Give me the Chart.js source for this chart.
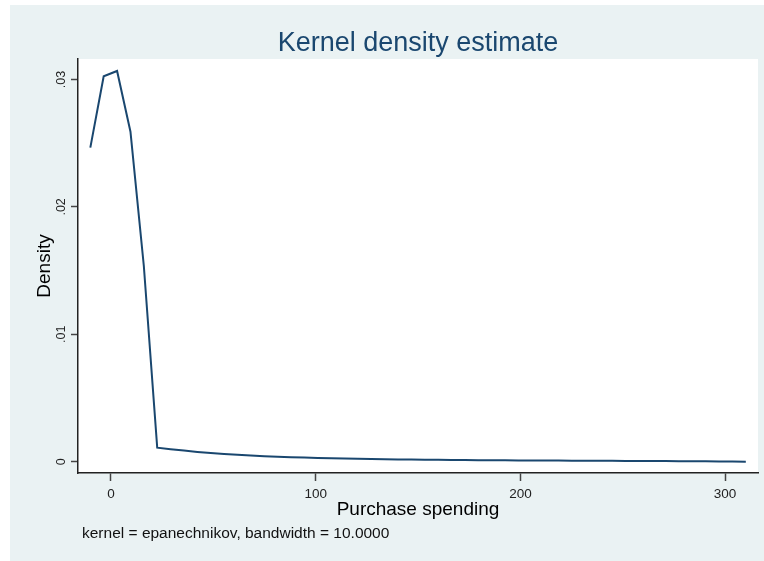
<!DOCTYPE html>
<html>
<head>
<meta charset="utf-8">
<title>Kernel density estimate</title>
<script src="https://cdn.jsdelivr.net/npm/chart.js@4/dist/chart.umd.min.js"></script>
<style>
  body { margin: 0; background: #fff; }
  #wrap { width: 764px; height: 561px; }
</style>
</head>
<body>
<div id="wrap"><canvas id="kdChart" width="764" height="561"></canvas></div>
<script>
// grid points of the density estimate (purchase spending)
const spending = [
  -10.1, -3.57, 2.97, 9.51, 16.04, 22.58, 29.11, 35.65, 42.18, 48.72,
  55.25, 61.79, 68.32, 74.86, 81.39, 87.93, 94.46, 101.0, 107.53, 114.07,
  120.6, 127.14, 133.67, 140.21, 146.74, 153.28, 159.81, 166.35, 172.88, 179.42,
  185.95, 192.49, 199.02, 205.56, 212.09, 218.63, 225.16, 231.7, 238.23, 244.77,
  251.3, 257.84, 264.37, 270.91, 277.44, 283.98, 290.51, 297.05, 303.58, 310.12
];
// estimated density at each grid point
const density = [
  0.02465, 0.03025, 0.03067, 0.02590, 0.01536, 0.00110, 0.00098, 0.00087, 0.00077, 0.00068,
  0.00060, 0.00054, 0.00048, 0.00043, 0.00039, 0.00035, 0.00032, 0.00029, 0.00027, 0.00025,
  0.00023, 0.00021, 0.00019, 0.00018, 0.00017, 0.00016, 0.00015, 0.00014, 0.00013, 0.00012,
  0.00011, 0.00011, 0.00010, 0.00010, 0.00009, 0.00009, 0.00008, 0.00008, 0.00007, 0.00007,
  0.00006, 0.00006, 0.00005, 0.00005, 0.00004, 0.00004, 0.00003, 0.00002, 0.00001, 0.00000
];

const xTicks = [0, 100, 200, 300];
const yTicks = [0, 0.01, 0.02, 0.03];
const yTickLabels = ["0", ".01", ".02", ".03"];
const noteText = "kernel = epanechnikov, bandwidth = 10.0000";

const navy = "#1A476F";
const fontFamily = "'Liberation Sans', Arial, sans-serif";

// light blue panel + white plot region, and the kernel note under the plot
const stataPanel = {
  id: "stataPanel",
  beforeDraw(chart) {
    const ctx = chart.ctx;
    const a = chart.chartArea;
    ctx.save();
    ctx.fillStyle = "#ffffff";
    ctx.fillRect(0, 0, chart.width, chart.height);
    ctx.fillStyle = "#EAF2F3";
    ctx.fillRect(10, 5, chart.width - 10, chart.height - 5);
    ctx.fillStyle = "#ffffff";
    ctx.fillRect(a.left, a.top, a.right - a.left, a.bottom - a.top);
    ctx.restore();
  },
  afterDraw(chart) {
    const ctx = chart.ctx;
    ctx.save();
    ctx.font = "15.5px " + fontFamily;
    ctx.fillStyle = "#111";
    ctx.textAlign = "left";
    ctx.textBaseline = "middle";
    ctx.fillText(noteText, 82, 534);
    ctx.restore();
  }
};

new Chart(document.getElementById("kdChart"), {
  type: "line",
  data: {
    datasets: [{
      label: "Density",
      data: spending.map((x, i) => ({ x: x, y: density[i] })),
      borderColor: navy,
      borderWidth: 2,
      pointRadius: 0,
      tension: 0,
      fill: false
    }]
  },
  options: {
    responsive: false,
    animation: false,
    devicePixelRatio: 1,
    layout: { padding: { left: 0, right: 6, top: 0, bottom: 0 } },
    plugins: {
      legend: { display: false },
      tooltip: { enabled: false },
      title: {
        display: true,
        fullSize: false, // centre over the plot region, not the whole canvas
        text: "Kernel density estimate",
        color: navy,
        font: { family: fontFamily, size: 27, weight: "normal", lineHeight: 1 },
        padding: { top: 30.5, bottom: 1.5 }
      }
    },
    scales: {
      x: {
        type: "linear",
        position: "bottom",
        min: -16.12,
        max: 316.07,
        afterBuildTicks: s => { s.ticks = xTicks.map(v => ({ value: v })); },
        afterFit: s => { s.height = 88; },
        ticks: {
          autoSkip: false,
          maxRotation: 0,
          padding: 5,
          color: "#222",
          font: { family: fontFamily, size: 13.5 }
        },
        grid: {
          drawOnChartArea: false,
          drawTicks: true,
          tickLength: 8,
          tickColor: "#444",
          tickWidth: 1.5
        },
        border: { display: true, color: "#222", width: 1.5 },
        title: {
          display: true,
          text: "Purchase spending",
          color: "#000",
          font: { family: fontFamily, size: 19 },
          padding: { top: 0, bottom: 40 }
        }
      },
      y: {
        type: "linear",
        position: "left",
        min: -0.000887,
        max: 0.03161,
        afterBuildTicks: s => { s.ticks = yTicks.map(v => ({ value: v })); },
        afterFit: s => { s.width = 78; },
        ticks: {
          minRotation: 90,
          maxRotation: 90,
          crossAlign: "center",
          padding: 1,
          color: "#222",
          font: { family: fontFamily, size: 12.5 },
          callback: (v, i) => yTickLabels[i]
        },
        grid: {
          drawOnChartArea: false,
          drawTicks: true,
          tickLength: 7,
          tickColor: "#444",
          tickWidth: 1.5
        },
        border: { display: true, color: "#222", width: 1.5 },
        title: {
          display: true,
          text: "Density",
          color: "#000",
          font: { family: fontFamily, size: 19 },
          padding: { top: 33.5, bottom: 0 }
        }
      }
    }
  },
  plugins: [stataPanel]
});
</script>
</body>
</html>
